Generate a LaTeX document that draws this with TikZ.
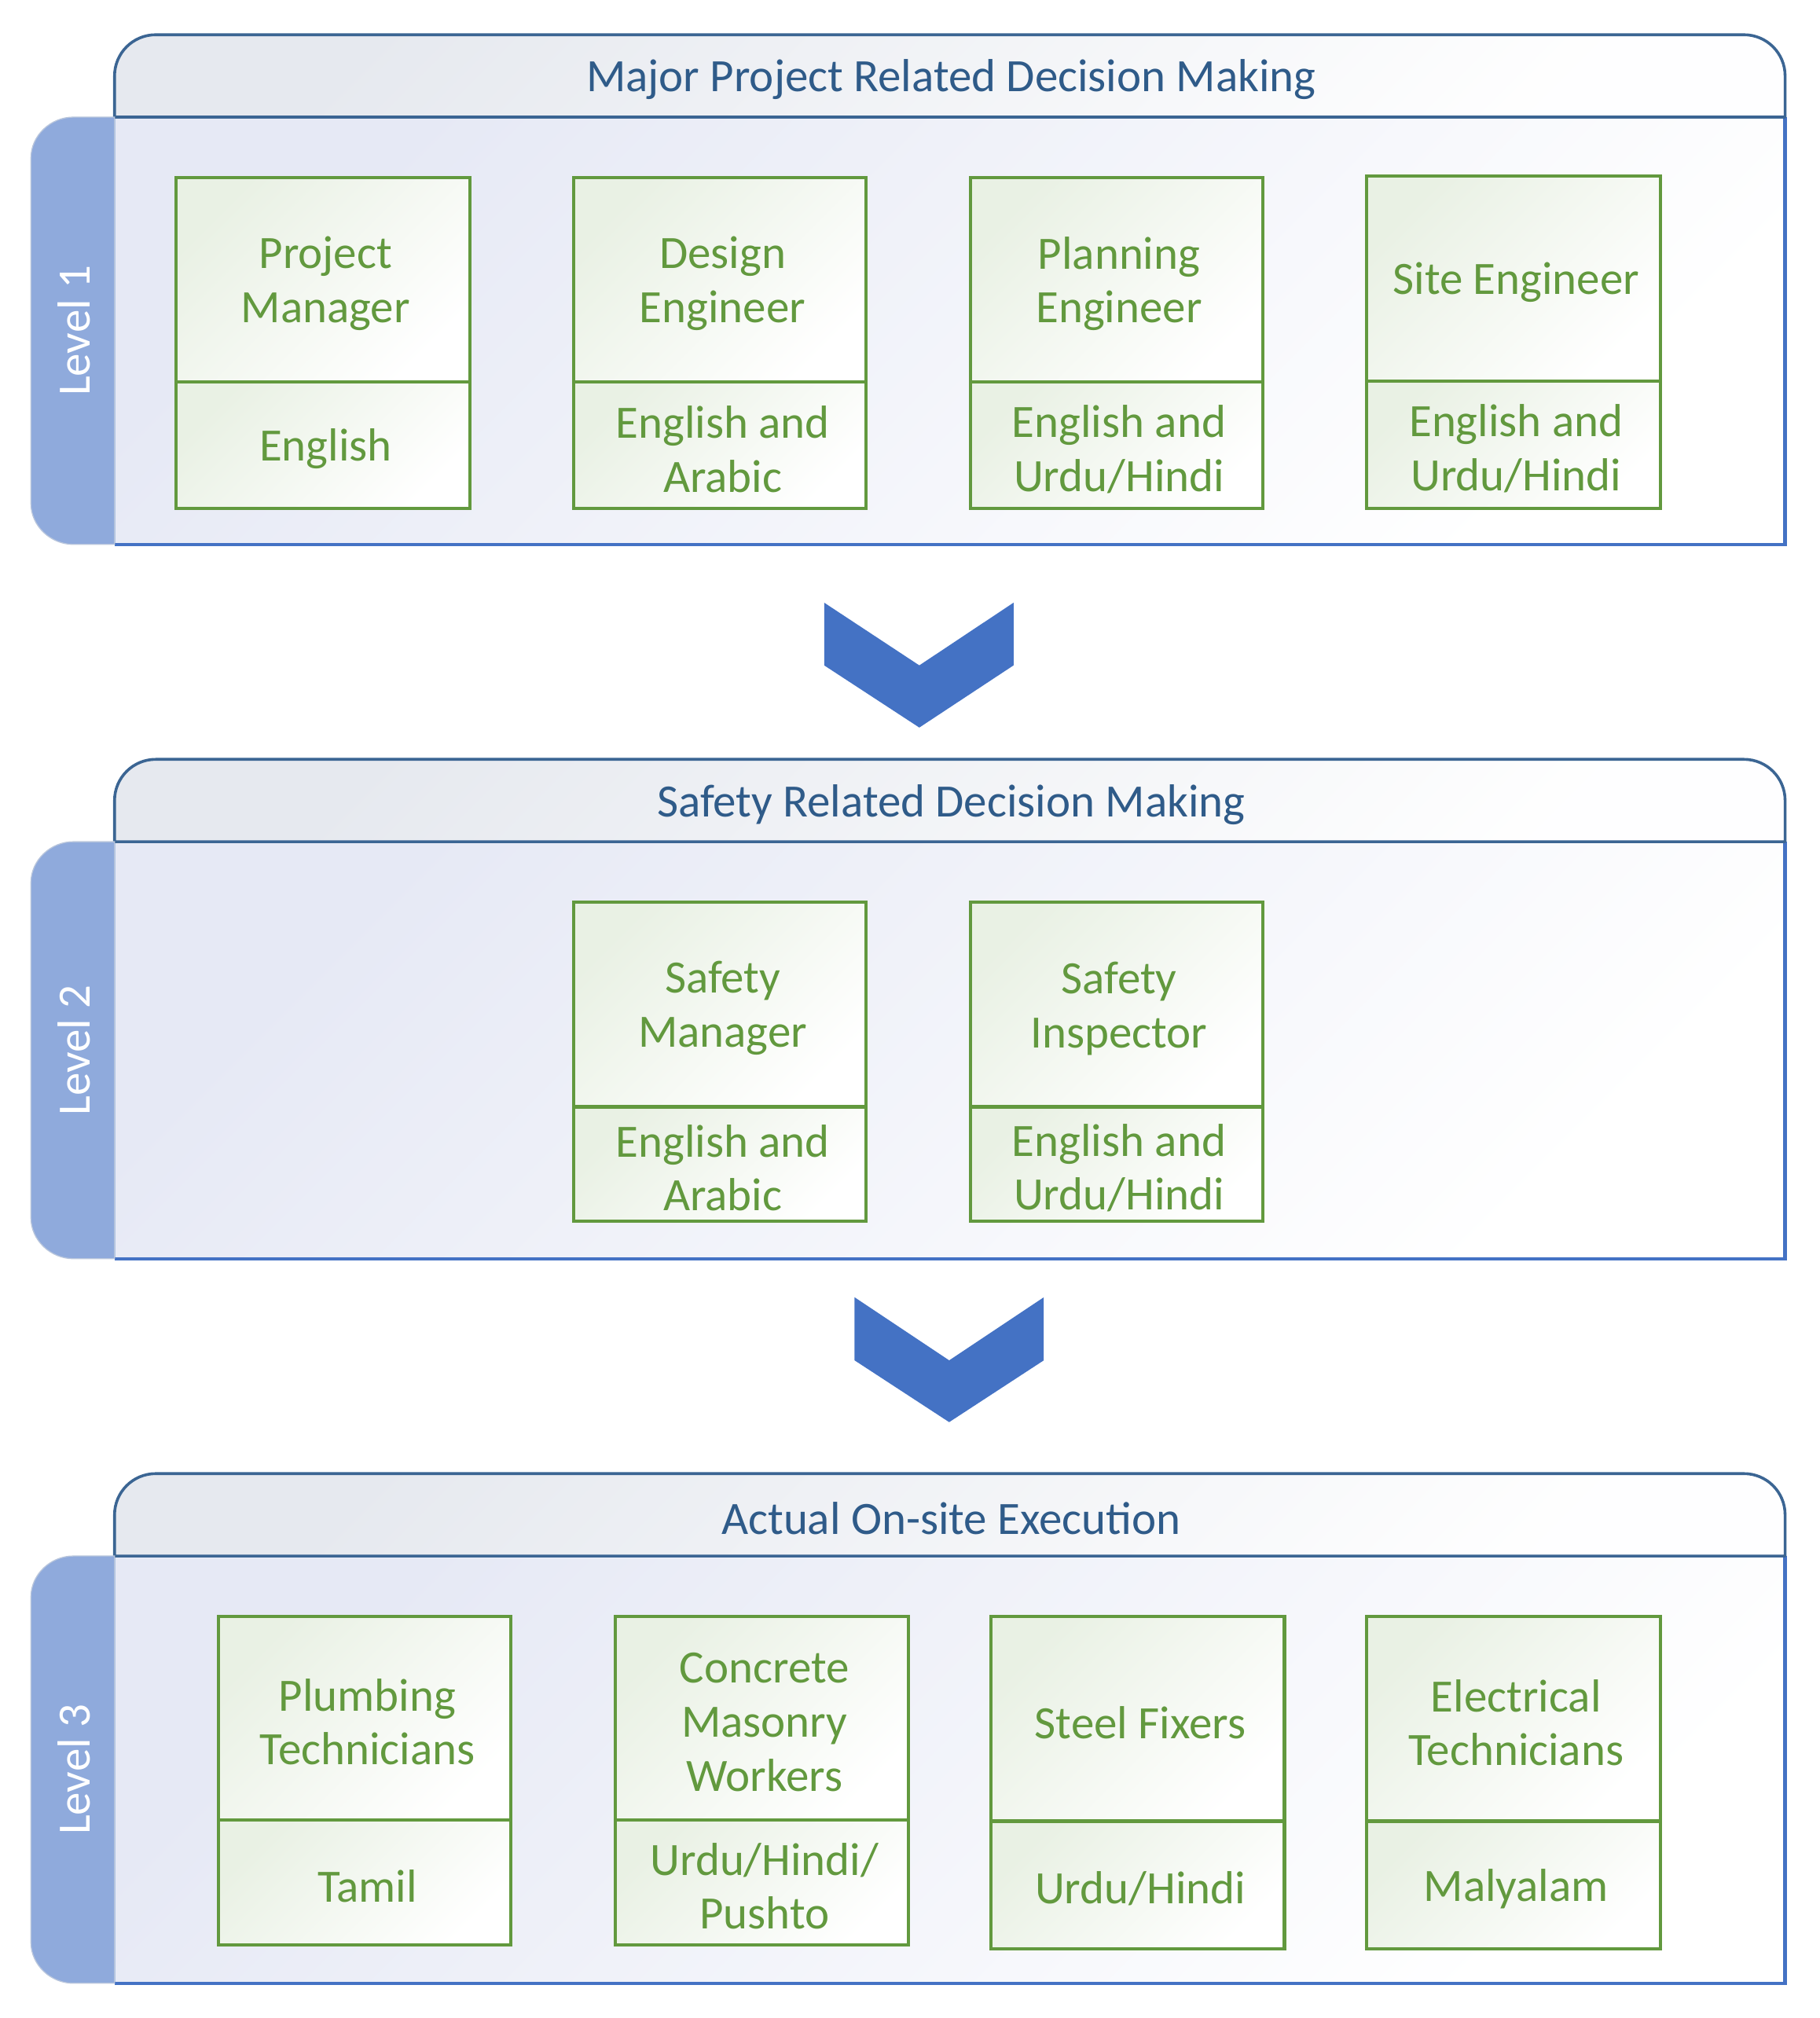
\documentclass[tikz,border=0pt]{standalone}
\usepackage{fontspec}
\setmainfont{Carlito}
\definecolor{hdrblue}{HTML}{3B6593}
\definecolor{titleblue}{HTML}{2F5B89}
\definecolor{bodyblue}{HTML}{4472C4}
\definecolor{tabfill}{HTML}{8FAADC}
\definecolor{rolegreen}{HTML}{62993E}
\definecolor{bodytint}{HTML}{E6E9F5}
\definecolor{hdrtint}{HTML}{E6E9EF}
\newcommand\rolebox[8]{%
  \pgfmathsetmacro\rbw{0.5*(#3-#2)}%
  \pgfmathsetmacro\rbht{0.5*(#5-#4)}%
  \pgfmathsetmacro\rbhb{0.5*(#6-#5)}%
  \node[rolecell, minimum width=\rbw pt, minimum height=\rbht pt] (#1t) at ({(#2+#3)/2},{(#4+#5)/2}) {};
  \node[rolecell, minimum width=\rbw pt, minimum height=\rbhb pt] (#1b) at ({(#2+#3)/2},{(#5+#6)/2}) {};
  \node[roletext] (#1tl) at (#1t.center) {#7};
  \node[roletext] (#1bl) at (#1b.center) {#8};
}
\newcommand\levelpanel[5]{%
  % #1 name, #2 top, #3 header bottom, #4 body bottom, #5 title
  \pgfmathsetmacro\lpbh{0.5*(#4-#3)}%
  \node[bodybox, minimum width=649pt, minimum height=\lpbh pt] (#1b) at (738,{(#3+#4)/2}) {};
  \draw[tabline] (#1b.north west) -- (#1b.south west);
  \draw[bodyline] (#1b.north east) -- (#1b.south east) -- (#1b.south west);
  \path[hdrshade] (89,#3) -- (89,#2+32) .. controls (89,#2+14.3) and (103.3,#2) .. (121,#2)
     -- (1355,#2) .. controls (1372.7,#2) and (1387,#2+14.3) .. (1387,#2+32) -- (1387,#3) -- cycle;
  \draw[hdrline] (89,#3) -- (89,#2+32) .. controls (89,#2+14.3) and (103.3,#2) .. (121,#2)
     -- (1355,#2) .. controls (1372.7,#2) and (1387,#2+14.3) .. (1387,#2+32) -- (1387,#3) -- cycle;
  \node[titletext] (#1h) at (739,{(#2+#3)/2}) {#5};
  \path[tabshape] (89,#3) -- (57,#3) .. controls (39.3,#3) and (24,#3+14.3) .. (24,#3+32)
     -- (24,#4-32) .. controls (24,#4-14.3) and (39.3,#4) .. (57,#4) -- (89,#4) -- cycle;
}
\begin{document}
\begin{tikzpicture}[x=0.5pt,y=-0.5pt,
  every node/.style={inner sep=0pt, outer sep=0pt},
  lbl/.style={font=\fontsize{18}{21}\selectfont, align=center},
  rolecell/.style={draw=rolegreen, line width=1.25pt, top color=rolegreen!14, bottom color=white, shading angle=45},
  roletext/.style={lbl, text=rolegreen, yshift=-1.5pt, xshift=1pt},
  bodybox/.style={top color=bodytint, bottom color=white, shading angle=45},
  bodyline/.style={draw=bodyblue, line width=1.3pt},
  tabline/.style={draw=bodyblue!45, line width=0.5pt},
  hdrshade/.style={top color=hdrtint, bottom color=white!97!hdrtint, shading angle=45},
  hdrline/.style={draw=hdrblue, line width=1.1pt, line join=round},
  titletext/.style={lbl, text=titleblue, yshift=-1.5pt},
  tabshape/.style={fill=tabfill, draw=tabfill!75!gray!60, line width=0.4pt},
  leveltext/.style={lbl, text=white, rotate=90},
  chev/.style={fill=bodyblue}
]
\useasboundingbox (0,0) rectangle (1414,1568);

\levelpanel{p1}{27}{91}{423}{Major Project Related Decision Making}
\node[leveltext] (l1) at (57.5,257) {Level 1};
\levelpanel{p2}{590}{654}{978}{Safety Related Decision Making}
\node[leveltext] (l2) at (57.5,816) {Level 2};
\levelpanel{p3}{1145}{1209}{1541}{Actual On-site Execution}
\node[leveltext] (l3) at (57.5,1375) {Level 3};

% Level 1 roles
\rolebox{pm}{137}{365}{138}{297}{395}{Project\\Manager}{English}
\rolebox{de}{446}{673}{138}{297}{395}{Design\\Engineer}{English and\\Arabic}
\rolebox{pe}{754}{981}{138}{297}{395}{Planning\\Engineer}{English and\\Urdu/Hindi}
\rolebox{se}{1062}{1290}{137}{296}{395}{Site Engineer}{English and\\Urdu/Hindi}

% Level 2 roles
\rolebox{sm}{446}{673}{701}{860}{949}{Safety\\Manager}{English and\\Arabic}
\rolebox{si}{754}{981}{701}{860}{949}{Safety\\Inspector}{English and\\Urdu/Hindi}

% Level 3 roles
\rolebox{pt}{170}{397}{1256}{1414}{1511}{Plumbing\\Technicians}{Tamil}
\rolebox{cm}{478}{706}{1256}{1414}{1511}{Concrete\\Masonry\\Workers}{Urdu/Hindi/\\Pushto}
\rolebox{sf}{770}{998}{1256}{1415}{1514}{Steel Fixers}{Urdu/Hindi}
\rolebox{et}{1062}{1290}{1256}{1415}{1514}{Electrical\\Technicians}{Malyalam}

% chevrons
\fill[chev] (640.4,468.3) -- (714.3,517) -- (787.5,468.3) -- (787.5,517) -- (714.3,565.3) -- (640.4,517) -- cycle;
\fill[chev] (664,1008) -- (737.5,1057) -- (811,1008) -- (811,1057) -- (737.5,1105) -- (664,1057) -- cycle;
\end{tikzpicture}
\end{document}
